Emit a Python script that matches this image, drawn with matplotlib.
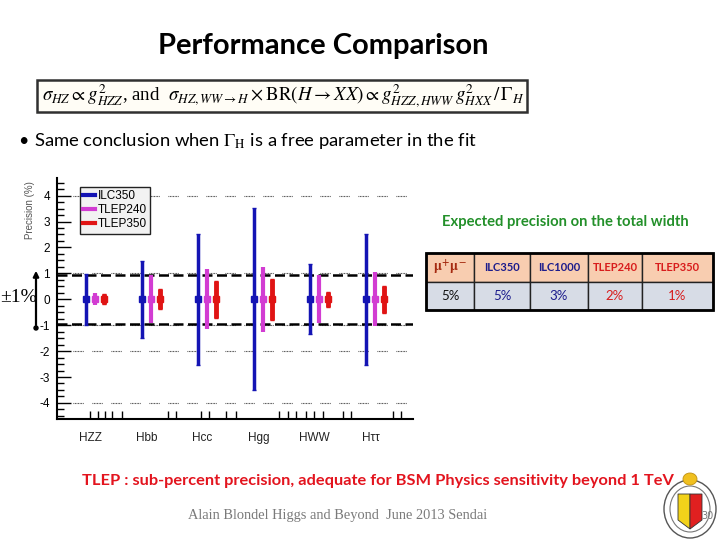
import numpy as np
import matplotlib.pyplot as plt
from matplotlib.lines import Line2D
from matplotlib.patches import Rectangle, Ellipse, Polygon, FancyArrowPatch

plt.rcParams['mathtext.fontset'] = 'stix'
plt.rcParams['axes.unicode_minus'] = False

# Data
channels = ["HZZ", "Hbb", "Hcc", "Hgg", "HWW", "H\u03c4\u03c4"]
ilc350 = [0.98, 1.48, 2.53, 3.52, 1.35, 2.53]
tlep240 = [0.23, 0.93, 1.15, 1.25, 0.93, 1.05]
tlep350 = [0.19, 0.38, 0.71, 0.80, 0.29, 0.52]
band = [-0.96, 0.93]
grid_levels = [4, 1, -1, -2, -4]

table_header = [r"$\mathbf{\mu^{+}\mu^{-}}$", "ILC350", "ILC1000", "TLEP240", "TLEP350"]
table_values = ["5%", "5%", "3%", "2%", "1%"]

W, H = 720, 540
def fx(x):
    return x / W
def fy(y):
    return 1 - y / H

fig = plt.figure(figsize=(7.2, 5.4), dpi=100)

# Slide texts
fig.text(fx(323), fy(46), "Performance Comparison", ha='center', va='center',
         fontsize=21, fontweight='bold', family='Lato')

fig.patches.append(Rectangle((fx(37), fy(112)), 490 / W, 32 / H, transform=fig.transFigure,
                             facecolor='#fffdf6', edgecolor='#303030', lw=1.8))
formula = (r"$\sigma_{HZ}\propto g^{2}_{HZZ}$, and  "
           r"$\sigma_{HZ,WW\rightarrow H}\times \mathrm{BR}(H\rightarrow XX)\propto "
           r"g^{2}_{HZZ,HWW}\,g^{2}_{HXX}\,/\,\Gamma_{H}$")
fig.text(fx(283), fy(96), formula, ha='center', va='center', fontsize=13.6,
         family='Liberation Serif')

fig.text(fx(18), fy(141), "\u2022", ha='left', va='center', fontsize=13, family='Lato')
fig.text(fx(34), fy(141), r"Same conclusion when $\Gamma_{\rm H}$ is a free parameter in the fit",
         ha='left', va='center', fontsize=13.3, family='Lato')

# Main plot
ax = fig.add_axes([fx(57), fy(419), 356 / W, 241 / H])
x = np.arange(len(channels))
off = 0.16

ax.errorbar(x - off, np.zeros(6), yerr=ilc350, fmt='s', color='#1414b4', ms=5,
            elinewidth=2.5, capsize=1.5, zorder=5)
ax.errorbar(x, np.zeros(6), yerr=tlep240, fmt='s', color='#d23cd2', ms=5,
            elinewidth=3, capsize=0, zorder=5)
ax.errorbar(x + off, np.zeros(6), yerr=tlep350, fmt='s', color='#e01414', ms=5,
            elinewidth=3.5, capsize=1.5, zorder=5)

dots = [0.7, 0.7] * 6 + [0.7, 8]
for g in grid_levels:
    ax.axhline(g, xmin=0.045, xmax=1, color='#333333', lw=0.8, dashes=dots, zorder=1)
for b in band:
    ax.axhline(b, color='black', lw=1.8, dashes=(4, 1.8), zorder=2)

ax.set_xlim(-0.68, 5.68)
ax.set_ylim(-4.62, 4.68)
ax.spines['top'].set_visible(False)
ax.spines['right'].set_visible(False)
ax.spines['left'].set_linewidth(1.5)
ax.spines['bottom'].set_linewidth(1.5)

ax.set_yticks(np.arange(-4, 5))
ax.set_yticks(np.arange(-4.5, 4.6, 0.25), minor=True)
ax.tick_params(axis='y', which='major', direction='in', length=10, width=1,
               labelsize=8.5, pad=5)
ax.tick_params(axis='y', which='minor', direction='in', length=5, width=1)
for lab in ax.get_yticklabels():
    lab.set_family('Liberation Sans')

xt = [-0.094, 0.044, 0.174, 0.311, 0.49, 1.304, 1.454, 1.901, 2.036, 2.347, 2.513,
      3.286, 3.447, 3.597, 3.763, 3.911, 4.072, 4.429, 4.567, 5.322, 5.46]
ax.set_xticks(xt)
ax.tick_params(axis='x', direction='in', length=6, width=1, labelbottom=False)

for i, name in enumerate(channels):
    ax.text(i - 0.08, -0.08, name, transform=ax.get_xaxis_transform(), ha='center',
            va='center', fontsize=8.5, family='Liberation Sans', color='#222222')

handles = [Line2D([], [], color='#1414b4', lw=3),
           Line2D([], [], color='#d23cd2', lw=3),
           Line2D([], [], color='#e01414', lw=3)]
leg = ax.legend(handles, ["ILC350", "TLEP240", "TLEP350"], loc='upper left',
                bbox_to_anchor=(0.064, 0.963), borderaxespad=0, fancybox=False,
                handlelength=1.0, handletextpad=0.2, labelspacing=0.15,
                borderpad=0.3, prop={'family': 'Liberation Sans', 'size': 8.5})
leg.get_frame().set_facecolor('#f2f2f2')
leg.get_frame().set_edgecolor('#222222')
leg.get_frame().set_alpha(1)

fig.text(fx(30), fy(181), "Precision (%)", rotation=90, ha='center', va='top',
         fontsize=7, family='Liberation Sans', color='#555555')

# +-1% marker
fig.text(fx(19), fy(298), "\u00b11%", ha='center', va='center', fontsize=14,
         family='Liberation Serif')
fig.patches.append(FancyArrowPatch((fx(36), fy(328)), (fx(36), fy(268)),
                                   transform=fig.transFigure, arrowstyle='-|>',
                                   mutation_scale=8, color='black', lw=1.6))
fig.patches.append(Ellipse((fx(36), fy(328)), 4 / W, 4 / H, transform=fig.transFigure,
                           color='black'))

# Table of total width precision
fig.text(fx(565), fy(222), "Expected precision on the total width", ha='center',
         va='center', fontsize=10.6, fontweight='bold', family='Lato', color='#23902a')

tax = fig.add_axes([fx(426), fy(310), 287 / W, 57 / H])
tax.axis('off')
widths = np.array([48, 56, 58, 54, 71]) / 287
tbl = tax.table(cellText=[table_header, table_values],
                cellColours=[['#f8cdb0'] * 5, ['#d7dce6'] * 5],
                colWidths=list(widths), bbox=[0, 0, 1, 1], cellLoc='center')
tbl.auto_set_font_size(False)
head_cols = ['#a52a10', '#1c1c8c', '#1c1c8c', '#d81c1c', '#d81c1c']
val_cols = ['#111111', '#1c1c8c', '#1c1c8c', '#d81c1c', '#d81c1c']
for (r, c), cell in tbl.get_celld().items():
    cell.set_edgecolor('#222222')
    cell.set_linewidth(1)
    t = cell.get_text()
    t.set_family('Lato')
    if r == 0:
        t.set_color(head_cols[c])
        t.set_fontsize(8 if c else 10)
        t.set_fontweight('bold')
    else:
        t.set_color(val_cols[c])
        t.set_fontsize(9.5)
tax.add_patch(Rectangle((0, 0), 1, 1, transform=tax.transAxes, fill=False,
                        edgecolor='black', lw=2, clip_on=False))

# Bottom texts
fig.text(fx(378), fy(481), "TLEP : sub-percent precision, adequate for BSM Physics sensitivity beyond 1 TeV",
         ha='center', va='center', fontsize=11.8, fontweight='bold', family='Lato',
         color='#e3141e')
fig.text(fx(338), fy(516), "Alain Blondel Higgs and Beyond  June 2013 Sendai", ha='center',
         va='center', fontsize=10.4, family='Liberation Serif', color='#7a7a7a')

# University seal (simplified)
cx, cy = 690, 509
fig.patches.append(Ellipse((fx(cx), fy(cy)), 52 / W, 58 / H, transform=fig.transFigure,
                           facecolor='white', edgecolor='#555555', lw=1))
fig.patches.append(Ellipse((fx(cx), fy(cy)), 40 / W, 46 / H, transform=fig.transFigure,
                           fill=False, edgecolor='#777777', lw=0.8))
fig.patches.append(Ellipse((fx(cx), fy(cy - 30)), 14 / W, 12 / H, transform=fig.transFigure,
                           facecolor='#f0c020', edgecolor='#c09010', lw=0.6))
fig.patches.append(Polygon([(fx(cx - 12), fy(494)), (fx(cx), fy(494)), (fx(cx), fy(529)),
                            (fx(cx - 12), fy(520))], closed=True, transform=fig.transFigure,
                           facecolor='#f2d21a', edgecolor='#333333', lw=0.6))
fig.patches.append(Polygon([(fx(cx), fy(494)), (fx(cx + 12), fy(494)), (fx(cx + 12), fy(520)),
                            (fx(cx), fy(529))], closed=True, transform=fig.transFigure,
                           facecolor='#e02020', edgecolor='#333333', lw=0.6))
fig.text(fx(707), fy(516), "30", ha='center', va='center', fontsize=7, color='#777777')

fig.savefig("out.png", dpi=100)
